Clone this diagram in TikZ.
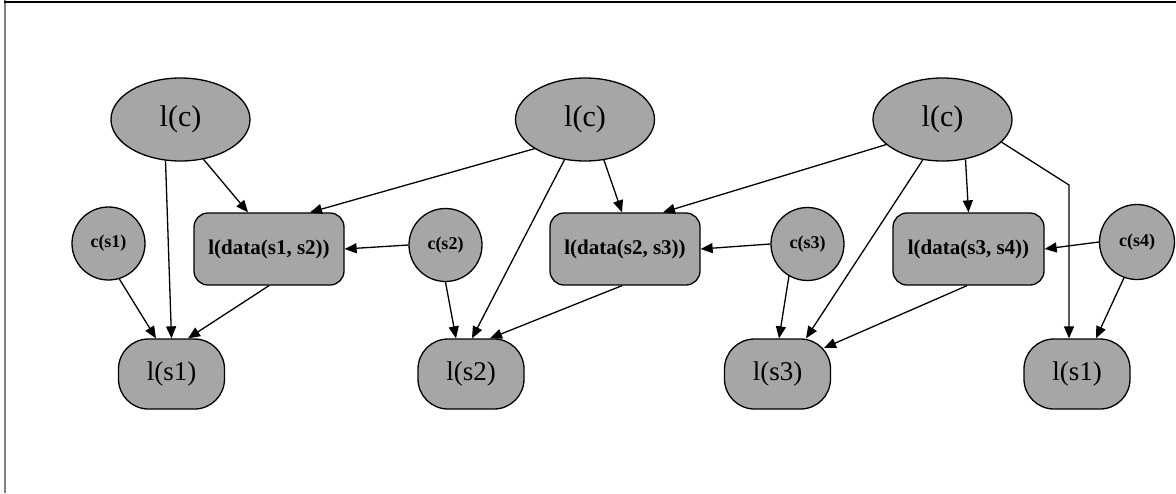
\documentclass[tikz,border=0pt]{standalone}
\usepackage{fontspec}
\setmainfont{Liberation Serif}
\usetikzlibrary{shapes.geometric,arrows.meta,calc}
\definecolor{nodegray}{RGB}{166,166,166}
\begin{document}
\begin{tikzpicture}[x=1pt,y=-1pt,
  base/.style={draw=black,fill=nodegray,line width=1.3pt,inner sep=0pt,text=black},
  topell/.style={base,ellipse,minimum width=139pt,minimum height=83pt,font=\fontsize{30}{34}\selectfont},
  ccirc/.style={base,circle,minimum size=73pt,font=\bfseries\fontsize{18}{20}\selectfont},
  databox/.style={base,rectangle,rounded corners=14pt,minimum width=150pt,minimum height=72pt,font=\bfseries\fontsize{21}{24}\selectfont},
  sbox/.style={base,rectangle,rounded corners=30pt,minimum width=106pt,minimum height=70pt,font=\fontsize{27}{30}\selectfont},
  arr/.style={line width=1.3pt,-{Triangle[length=12pt,width=10pt]}}
]
\useasboundingbox (0,0) rectangle (1176,493);
% frame
\draw[line width=2pt,color=gray] (5,0) -- (5,493);
\draw[line width=1.5pt,color=black] (4,2) -- (1176,2);

% nodes
\node[topell] (lc1) at (180.5,119.5) {l(c)};
\node[topell] (lc2) at (585,119.5) {l(c)};
\node[topell] (lc3) at (942.5,119.5) {l(c)};

\node[ccirc] (cs1) at (108.5,243.5) {c(s1)};
\node[ccirc] (cs2) at (445.5,245) {c(s2)};
\node[ccirc] (cs3) at (807.5,244) {c(s3)};
\node[ccirc,minimum size=75pt] (cs4) at (1137,242) {c(s4)};

\node[databox] (ld12) at (269,249) {l(data(s1, s2))};
\node[databox] (ld23) at (625,249) {l(data(s2, s3))};
\node[databox,minimum width=151pt] (ld34) at (968.5,249) {l(data(s3, s4))};

\node[sbox] (ls1) at (171.5,374) {l(s1)};
\node[sbox] (ls2) at (471,374) {l(s2)};
\node[sbox] (ls3) at (777.5,374) {l(s3)};
\node[sbox] (ls1b) at (1077,374) {l(s1)};

\coordinate (bend) at (1069,185);

% edges
\draw[arr] (lc1.300) -- ([xshift=-21pt]ld12.north);
\draw[arr] (lc1.250) -- (ls1.north);
\draw[arr] (cs1.287) -- ([xshift=-15.5pt]ls1.north);
\draw[arr] (ld12.south) -- ([xshift=16.5pt]ls1.north);
\draw[arr] (cs2.west) -- (ld12.east);
\draw[arr] (lc2.210) -- ([xshift=41pt]ld12.north);
\draw[arr] (cs2.south) -- ([xshift=-15pt]ls2.north);
\draw[arr] (lc2.243) -- ([xshift=1pt]ls2.north);
\draw[arr] ([xshift=-3pt]ld23.south) -- ([xshift=19pt]ls2.north);
\draw[arr] (lc2.295) -- ([xshift=-3pt]ld23.north);
\draw[arr] (lc3.204) -- ([xshift=38pt]ld23.north);
\draw[arr] (cs3.west) -- (ld23.east);
\draw[arr] (cs3.240) -- ([xshift=1.5pt]ls3.north);
\draw[arr] (lc3.244) -- ([xshift=28.5pt]ls3.north);
\draw[arr] ([xshift=-1.5pt]ld34.south) -- ([xshift=46.5pt,yshift=26pt]ls3.center);
\draw[arr] (lc3.300) -- (ld34.north);
\draw[arr] (cs4.west) -- (ld34.east);
\draw[arr] (lc3.339) -- (bend) -- ([xshift=-8pt]ls1b.north);
\draw[arr] (cs4.250) -- ([xshift=19pt]ls1b.north);
\end{tikzpicture}
\end{document}
